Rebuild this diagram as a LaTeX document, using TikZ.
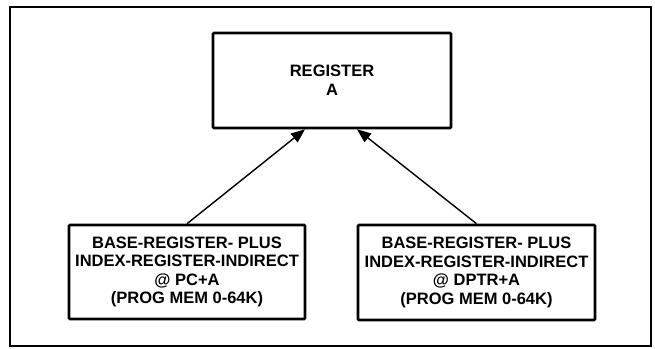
\documentclass[tikz,border=0pt]{standalone}
\usepackage{fontspec}
\setmainfont{Liberation Sans}
\usetikzlibrary{arrows.meta}
\begin{document}
\begin{tikzpicture}[x=1pt,y=-1pt,
  box/.style={draw,line width=2.6pt,rounded corners=1pt,align=center,inner sep=0pt,
    font=\fontsize{16.5}{18.6}\selectfont\bfseries},
  conn/.style={line width=1.4pt,-{Triangle[length=14pt,width=11pt]}},
  frame/.style={line width=1.8pt}]
\useasboundingbox (0,0) rectangle (655,348);
\draw[frame] (10,7) rectangle (651,346);
\node[box,minimum width=238pt,minimum height=95pt] (reg) at (332,80.5) {REGISTER\\A};
\node[box,minimum width=236pt,minimum height=94pt] (pc) at (187,272) {BASE-REGISTER- PLUS\\INDEX-REGISTER-INDIRECT\\@ PC+A\\(PROG MEM 0-64K)};
\node[box,minimum width=237pt,minimum height=95pt] (dptr) at (476.5,272.5) {BASE-REGISTER- PLUS\\INDEX-REGISTER-INDIRECT\\@ DPTR+A\\(PROG MEM 0-64K)};
\coordinate (tl) at ([xshift=-27pt]reg.south);
\coordinate (tr) at ([xshift=25pt]reg.south);
\draw[conn] (pc.north) -- (tl);
\draw[conn] (dptr.north) -- (tr);
\end{tikzpicture}
\end{document}
